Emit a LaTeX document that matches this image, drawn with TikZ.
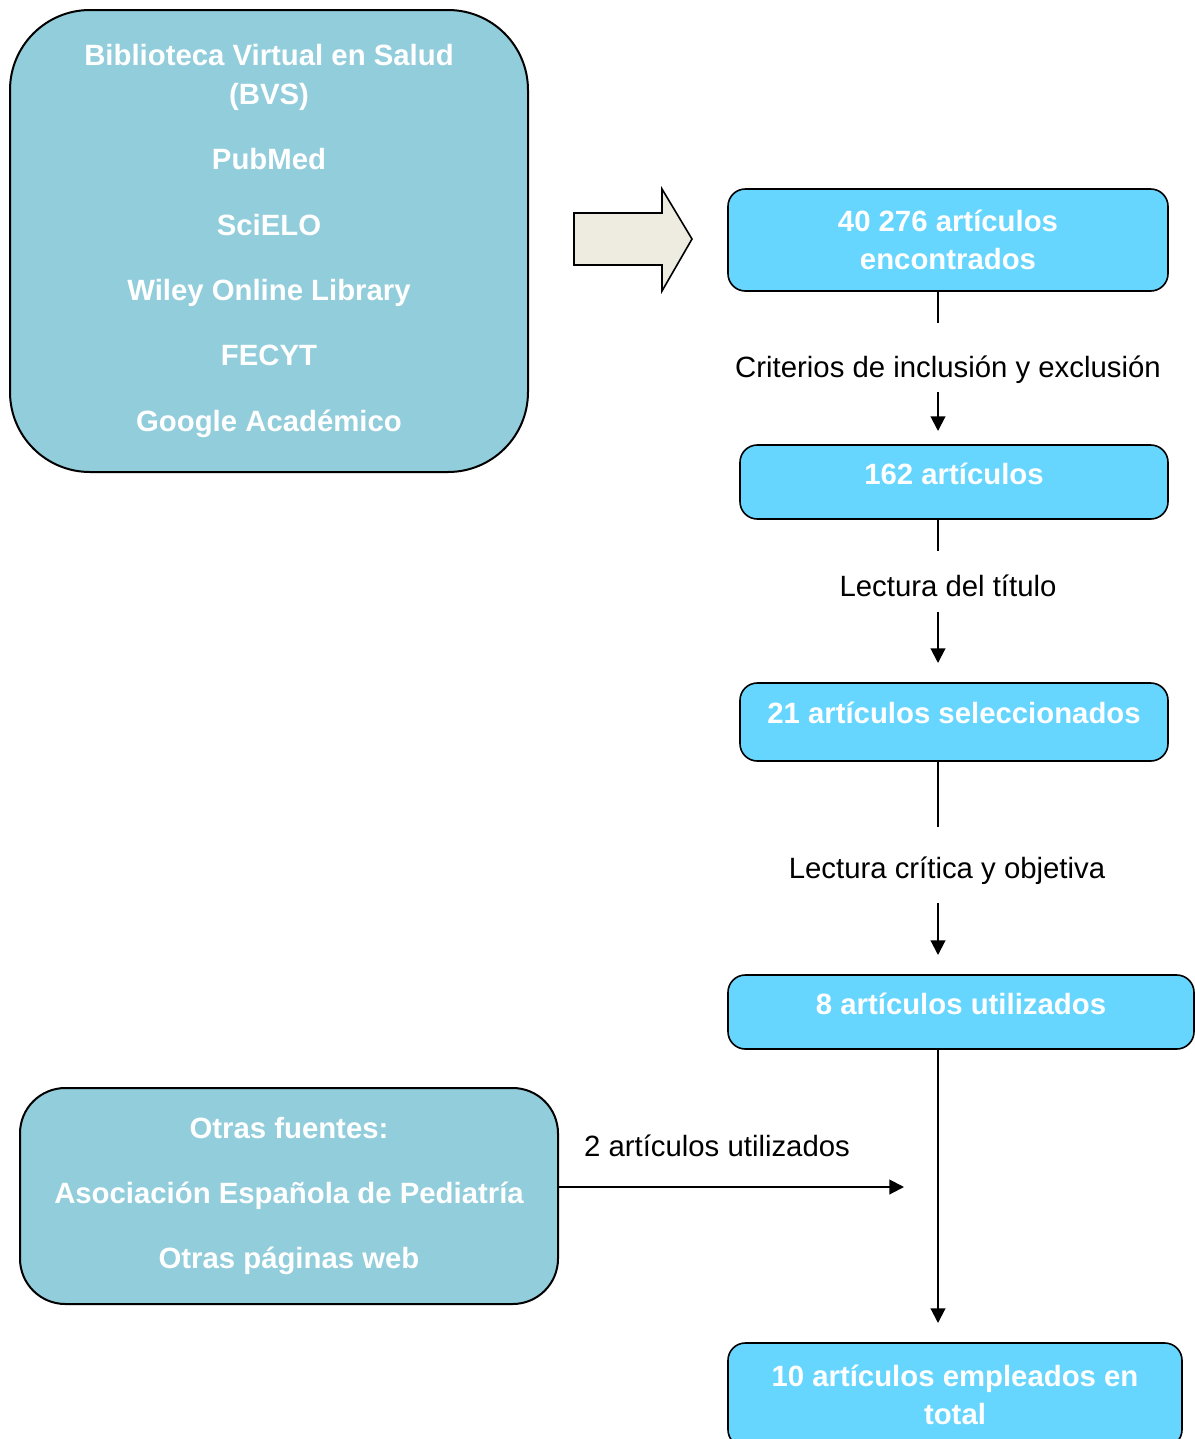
\documentclass[tikz,border=0pt]{standalone}
\usepackage{fontspec}
\setmainfont{Liberation Sans}
\usetikzlibrary{arrows.meta}
\definecolor{srcblue}{HTML}{92CDDC}
\definecolor{boxblue}{HTML}{66D6FF}
\definecolor{arrfill}{HTML}{EEECE1}
\tikzset{
  srcbox/.style={draw=black, line width=1.5pt, fill=srcblue, text=white, font=\bfseries\fontsize{22}{29}\selectfont, align=center, inner sep=0pt},
  stepbox/.style={draw=black, line width=1.2pt, fill=boxblue, text=white, font=\bfseries\fontsize{22}{29}\selectfont, align=center, rounded corners=13pt, inner sep=0pt},
  lbl/.style={font=\fontsize{22}{29}\selectfont, inner sep=0pt},
  conn/.style={line width=1.5pt},
  arr/.style={line width=1.5pt, -{Triangle[length=11pt,width=11pt]}},
}
\begin{document}
\begin{tikzpicture}[x=0.75pt,y=-0.75pt]
\useasboundingbox (0,0) rectangle (1195,1439);
% source box
\node[srcbox, rounded corners=60pt, minimum width=388.5pt, minimum height=346.5pt] (src) at (269,241)
 {Biblioteca Virtual en Salud\\(BVS)\\[20pt]PubMed\\[20pt]SciELO\\[20pt]Wiley Online Library\\[20pt]FECYT\\[20pt]Google Académico};
% block arrow
\draw[line width=1.2pt, fill=arrfill, line join=miter] (574,213) -- (662,213) -- (662,189) -- (692,239) -- (662,291) -- (662,265) -- (574,265) -- cycle;
% steps
\node[stepbox, minimum width=330pt, minimum height=76.5pt] (b1) at (948,240) {40 276 artículos\\encontrados};
\node[stepbox, minimum width=321pt, minimum height=55.5pt, text height=16pt, text depth=11.6pt] (b2) at (954,482) {162 artículos};
\node[stepbox, minimum width=321pt, minimum height=58.5pt, text height=16pt, text depth=13.6pt] (b3) at (954,722) {21 artículos seleccionados};
\node[stepbox, minimum width=349.5pt, minimum height=55.5pt, text height=16pt, text depth=11.6pt] (b4) at (961,1012) {8 artículos utilizados};
\node[stepbox, minimum width=340.5pt, minimum height=78pt] (b5) at (955,1395) {10 artículos empleados en\\total};
% other sources
\node[srcbox, rounded corners=34pt, minimum width=403.5pt, minimum height=162pt] (oth) at (289,1196)
 {Otras fuentes:\\[20pt]Asociación Española de Pediatría\\[20pt]Otras páginas web};
% labels
\node[lbl] (l1) at (948,370) {Criterios de inclusión y exclusión};
\node[lbl] (l2) at (948,586) {Lectura del título};
\node[lbl] (l3) at (947,871) {Lectura crítica y objetiva};
\node[lbl] (l4) at (717,1146) {2 artículos utilizados};
% connector points
\coordinate (s1) at (938,291); \coordinate (e1) at (938,323);
\coordinate (a1) at (938,392); \coordinate (t1) at (938,431);
\coordinate (s2) at (938,519); \coordinate (e2) at (938,551);
\coordinate (a2) at (938,612); \coordinate (t2) at (938,663);
\coordinate (s3) at (938,761); \coordinate (e3) at (938,827);
\coordinate (a3) at (938,903); \coordinate (t3) at (938,955);
\coordinate (s4) at (938,1049); \coordinate (t4) at (938,1323);
\coordinate (h0) at (558,1187); \coordinate (h1) at (904,1187);
\draw[conn] (s1) -- (e1);
\draw[arr] (a1) -- (t1);
\draw[conn] (s2) -- (e2);
\draw[arr] (a2) -- (t2);
\draw[conn] (s3) -- (e3);
\draw[arr] (a3) -- (t3);
\draw[arr] (s4) -- (t4);
\draw[arr] (h0) -- (h1);
\end{tikzpicture}
\end{document}
